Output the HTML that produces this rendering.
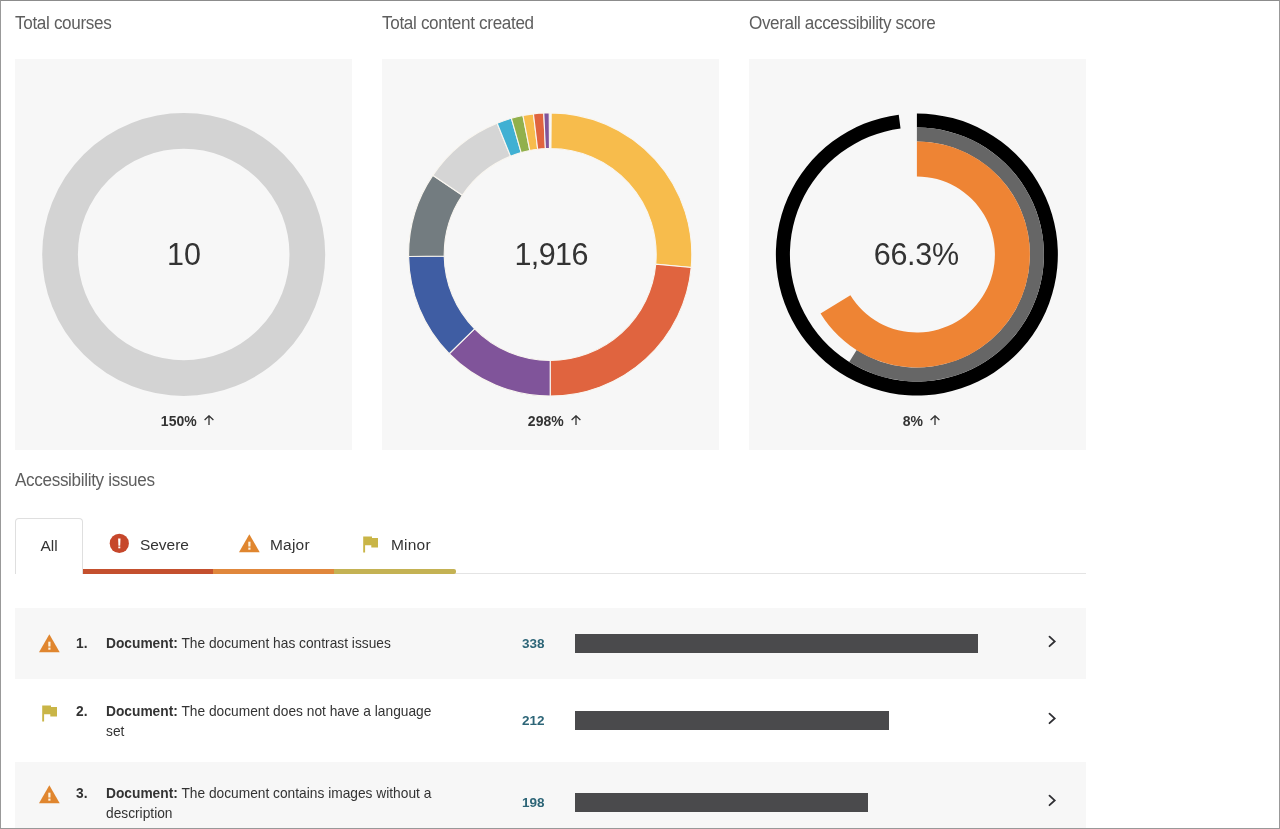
<!DOCTYPE html>
<html lang="en">
<head>
<meta charset="utf-8">
<title>Institutional report</title>
<style>
*{box-sizing:border-box;margin:0;padding:0}
html,body{width:1280px;height:829px;overflow:hidden;background:#fff}
body{font-family:"Liberation Sans",sans-serif;color:#333;position:relative}
.frame{position:absolute;left:0;top:0;width:1280px;height:829px;border:1px solid #999;border-top-color:#8c8c8c;z-index:10;pointer-events:none}
.h{position:absolute;font-size:18px;line-height:20px;color:#5e5e5e;font-weight:normal;white-space:nowrap;letter-spacing:-0.35px;transform:scaleX(0.95);transform-origin:0 0}
.panel{position:absolute;top:59px;width:337px;height:391px;background:#f7f7f7}
.big{position:absolute;top:237.4px;width:337px;text-align:center;font-size:30.5px;line-height:34px;color:#333}
.pct{position:absolute;top:413px;width:337px;text-align:center;font-size:14px;line-height:16px;font-weight:bold;color:#333}
.pct svg{display:inline-block;vertical-align:1.5px;margin-left:7.5px}
svg.charts{position:absolute;left:0;top:0}
.tab-all{position:absolute;left:15px;top:518px;width:68px;height:56px;border:1px solid #dfdfdf;border-bottom:none;border-radius:4px 4px 0 0;background:#fff;font-size:15.5px;line-height:18px;text-align:center;padding-top:18px;color:#333}
.tabline{position:absolute;left:83px;top:573px;width:1003px;height:1px;background:#e4e4e4}
.tbar{position:absolute;top:569px;height:5px}
.tab{position:absolute;top:535.6px;font-size:15.5px;line-height:18px;letter-spacing:0.2px;color:#333;white-space:nowrap}
.row{position:absolute;left:15px;width:1071px;background:#f7f7f7}
.num{position:absolute;left:76px;font-size:13.75px;line-height:20px;font-weight:bold;color:#333}
.txt{position:absolute;left:106px;width:345px;font-size:13.75px;line-height:20px;color:#333}
.cnt{position:absolute;left:522px;font-size:13.5px;line-height:20px;font-weight:bold;color:#2d6577}
.bar{position:absolute;left:574.5px;height:19px;background:#4a4a4c}
.ico{position:absolute}
</style>
</head>
<body>
<div class="h" style="left:15px;top:13px">Total courses</div>
<div class="h" style="left:382px;top:13px">Total content created</div>
<div class="h" style="left:749px;top:13px;letter-spacing:-0.4px">Overall accessibility score</div>

<div class="panel" style="left:15px"></div>
<div class="panel" style="left:382px"></div>
<div class="panel" style="left:749px"></div>

<svg class="charts" width="1280" height="470" viewBox="0 0 1280 470">
<circle cx="183.7" cy="254.5" r="123.65" fill="none" stroke="#d3d3d3" stroke-width="35.7"/>
<path d="M551.19 112.90A141.6 141.6 0 0 1 691.21 267.46L655.76 264.20A106 106 0 0 0 550.94 148.50Z" fill="#f7bc4c" stroke="#f9f6f0" stroke-width="1.1"/>
<path d="M691.21 267.46A141.6 141.6 0 0 1 550.20 396.10L550.20 360.50A106 106 0 0 0 655.76 264.20Z" fill="#e0643f" stroke="#f9f6f0" stroke-width="1.1"/>
<path d="M550.20 396.10A141.6 141.6 0 0 1 449.20 353.75L474.60 328.80A106 106 0 0 0 550.20 360.50Z" fill="#80549a" stroke="#f9f6f0" stroke-width="1.1"/>
<path d="M449.20 353.75A141.6 141.6 0 0 1 408.61 256.48L444.21 255.98A106 106 0 0 0 474.60 328.80Z" fill="#3f5da3" stroke="#f9f6f0" stroke-width="1.1"/>
<path d="M408.61 256.48A141.6 141.6 0 0 1 432.81 175.32L462.32 195.23A106 106 0 0 0 444.21 255.98Z" fill="#737c80" stroke="#f9f6f0" stroke-width="1.1"/>
<path d="M432.81 175.32A141.6 141.6 0 0 1 497.16 123.21L510.49 156.22A106 106 0 0 0 462.32 195.23Z" fill="#d5d5d5" stroke="#f9f6f0" stroke-width="1.1"/>
<path d="M497.16 123.21A141.6 141.6 0 0 1 511.41 118.32L521.16 152.56A106 106 0 0 0 510.49 156.22Z" fill="#40b0d3" stroke="#f9f6f0" stroke-width="1.1"/>
<path d="M511.41 118.32A141.6 141.6 0 0 1 522.94 115.55L529.79 150.48A106 106 0 0 0 521.16 152.56Z" fill="#91b04c" stroke="#f9f6f0" stroke-width="1.1"/>
<path d="M522.94 115.55A141.6 141.6 0 0 1 533.43 113.90L537.65 149.25A106 106 0 0 0 529.79 150.48Z" fill="#f7bc4c" stroke="#f9f6f0" stroke-width="1.1"/>
<path d="M533.43 113.90A141.6 141.6 0 0 1 543.78 113.05L545.39 148.61A106 106 0 0 0 537.65 149.25Z" fill="#e0643f" stroke="#f9f6f0" stroke-width="1.1"/>
<path d="M543.78 113.05A141.6 141.6 0 0 1 549.21 112.90L549.46 148.50A106 106 0 0 0 545.39 148.61Z" fill="#80549a" stroke="#f9f6f0" stroke-width="1.1"/>
<path d="M916.90 113.50A141 141 0 1 1 898.74 114.67L900.54 128.56A127 127 0 1 0 916.90 127.50Z" fill="#000"/>
<path d="M916.90 127.50A127 127 0 1 1 849.22 361.97L856.68 350.12A113 113 0 1 0 916.90 141.50Z" fill="#666"/>
<path d="M916.90 141.50A113 113 0 1 1 820.55 313.54L850.39 295.25A78 78 0 1 0 916.90 176.50Z" fill="#ee8434"/>
</svg>

<div class="big" style="left:15.5px">10</div>
<div class="big" style="left:382.6px;letter-spacing:-0.6px">1,916</div>
<div class="big" style="left:747.8px;letter-spacing:-0.3px">66.3%</div>

<div class="pct" style="left:19px">150%<svg width="10" height="10" viewBox="0 0 10 10"><path d="M5 10V1M0.6 5L5 0.8L9.4 5" fill="none" stroke="#333" stroke-width="1.3"/></svg></div>
<div class="pct" style="left:386px">298%<svg width="10" height="10" viewBox="0 0 10 10"><path d="M5 10V1M0.6 5L5 0.8L9.4 5" fill="none" stroke="#333" stroke-width="1.3"/></svg></div>
<div class="pct" style="left:753px">8%<svg width="10" height="10" viewBox="0 0 10 10"><path d="M5 10V1M0.6 5L5 0.8L9.4 5" fill="none" stroke="#333" stroke-width="1.3"/></svg></div>

<div class="h" style="left:15px;top:470px">Accessibility issues</div>

<div class="tabline"></div>
<div class="tab-all">All</div>
<div class="tbar" style="left:83px;width:130px;background:#c4502e"></div>
<div class="tbar" style="left:213px;width:121px;background:#e0873c"></div>
<div class="tbar" style="left:334px;width:122px;background:#c4b254;border-radius:0 2px 2px 0"></div>

<svg class="ico" style="left:109px;top:533px" width="21" height="21" viewBox="0 0 21 21"><circle cx="10.3" cy="10.4" r="9.6" fill="#c6472b"/><path d="M9.1 5.5h2.4l-0.3 7.2h-1.8z" fill="#fff"/><rect x="9.3" y="13.5" width="2" height="1.8" fill="#fff"/></svg>
<div class="tab" style="left:140px;letter-spacing:-0.05px">Severe</div>

<svg class="ico" style="left:238.6px;top:533.9px" width="21" height="19" viewBox="0 0 21 19"><path d="M10.35 0.2L20.7 18.3H0Z" fill="#e0862f"/><rect x="9.3" y="7.7" width="2.2" height="4.8" fill="#fdf3e0"/><rect x="9.3" y="13.6" width="2.2" height="2.1" fill="#fdf3e0"/></svg>
<div class="tab" style="left:270px">Major</div>

<svg class="ico" style="left:363px;top:535.7px" width="16" height="17" viewBox="0 0 16 17"><path d="M0.2 0.4h8.8v1.5h6v9.7h-6.7v-2.3h-6.2v7.2h-1.9z" fill="#c9b547"/></svg>
<div class="tab" style="left:391px">Minor</div>

<!-- rows -->
<div class="row" style="top:608px;height:71px"></div>
<div class="row" style="top:762px;height:67px"></div>

<svg class="ico" style="left:39px;top:634px" width="21" height="19" viewBox="0 0 21 19"><path d="M10.35 0.2L20.7 18.3H0Z" fill="#e0862f"/><rect x="9.3" y="7.7" width="2.2" height="4.8" fill="#fdf3e0"/><rect x="9.3" y="13.6" width="2.2" height="2.1" fill="#fdf3e0"/></svg>
<div class="num" style="top:633.5px">1.</div>
<div class="txt" style="top:633.5px"><b>Document:</b> The document has contrast issues</div>
<div class="cnt" style="top:634px">338</div>
<div class="bar" style="top:634px;width:403.5px"></div>
<svg class="ico" style="left:1047px;top:635px" width="10" height="13" viewBox="0 0 10 13"><path d="M2.5 1.6L7.7 6.4L2.5 11.2" fill="none" stroke="#2f2f33" stroke-width="1.8" stroke-linecap="round" stroke-linejoin="miter"/></svg>

<svg class="ico" style="left:42px;top:704.5px" width="16" height="17" viewBox="0 0 16 17"><path d="M0.2 0.4h8.8v1.5h6v9.7h-6.7v-2.3h-6.2v7.2h-1.9z" fill="#c9b547"/></svg>
<div class="num" style="top:702px">2.</div>
<div class="txt" style="top:702px"><b>Document:</b> The document does not have a language set</div>
<div class="cnt" style="top:711px">212</div>
<div class="bar" style="top:711px;width:314.5px"></div>
<svg class="ico" style="left:1047px;top:712px" width="10" height="13" viewBox="0 0 10 13"><path d="M2.5 1.6L7.7 6.4L2.5 11.2" fill="none" stroke="#2f2f33" stroke-width="1.8" stroke-linecap="round" stroke-linejoin="miter"/></svg>

<svg class="ico" style="left:39px;top:785px" width="21" height="19" viewBox="0 0 21 19"><path d="M10.35 0.2L20.7 18.3H0Z" fill="#e0862f"/><rect x="9.3" y="7.7" width="2.2" height="4.8" fill="#fdf3e0"/><rect x="9.3" y="13.6" width="2.2" height="2.1" fill="#fdf3e0"/></svg>
<div class="num" style="top:784px">3.</div>
<div class="txt" style="top:784px"><b>Document:</b> The document contains images without a description</div>
<div class="cnt" style="top:793px">198</div>
<div class="bar" style="top:793px;width:293.5px"></div>
<svg class="ico" style="left:1047px;top:794px" width="10" height="13" viewBox="0 0 10 13"><path d="M2.5 1.6L7.7 6.4L2.5 11.2" fill="none" stroke="#2f2f33" stroke-width="1.8" stroke-linecap="round" stroke-linejoin="miter"/></svg>

<div class="frame"></div>
</body>
</html>
